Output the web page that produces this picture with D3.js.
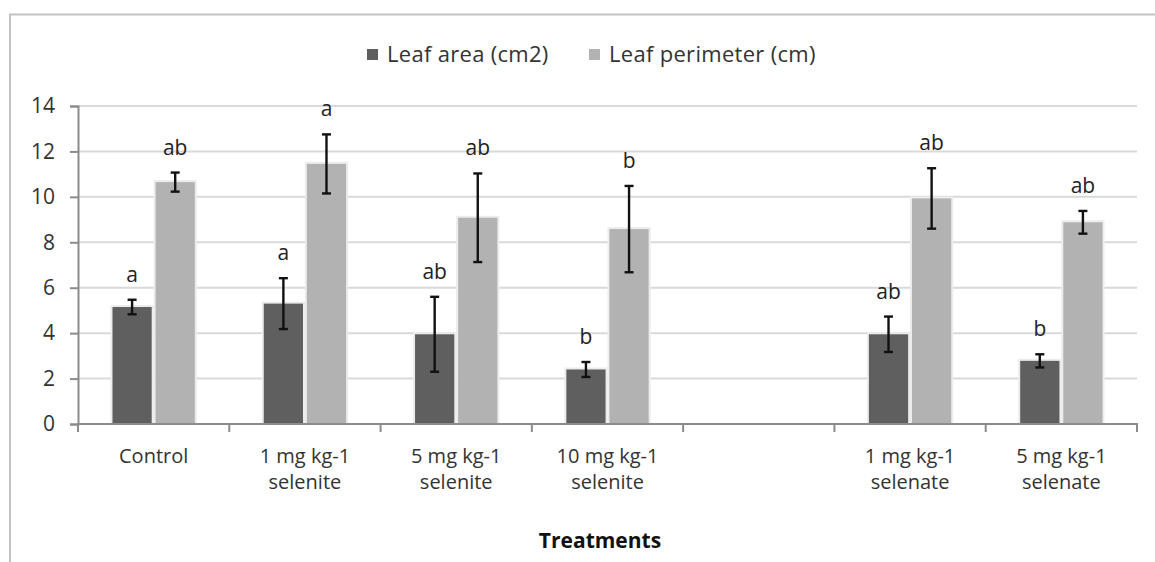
<!DOCTYPE html>
<html>
<head>
<meta charset="utf-8">
<script src="https://cdn.jsdelivr.net/npm/d3@7"></script>
<style>
  body { margin: 0; background: #fff; }
  svg { display: block; font-family: "Open Sans", Lato, sans-serif; }
</style>
</head>
<body>
<svg width="1155" height="562"></svg>
<script>
var categories = [['Control'], ['1 mg kg-1', 'selenite'], ['5 mg kg-1', 'selenite'], ['10 mg kg-1', 'selenite'], [], ['1 mg kg-1', 'selenate'], ['5 mg kg-1', 'selenate']]

var seriesNames = ['Leaf area (cm2)', 'Leaf perimeter (cm)']

var leafArea = [5.15, 5.3, 3.95, 2.4, null, 3.95, 2.78]
var leafAreaErr = [0.32, 1.12, 1.65, 0.33, null, 0.78, 0.29]
var leafPerim = [10.65, 11.45, 9.08, 8.58, null, 9.93, 8.88]
var leafPerimErr = [0.42, 1.3, 1.95, 1.9, null, 1.33, 0.5]

var areaLetters = ['a', 'a', 'ab', 'b', '', 'ab', 'b']
var perimLetters = ['ab', 'a', 'ab', 'b', '', 'ab', 'ab']

var yTicks = [0, 2, 4, 6, 8, 10, 12, 14]

var svg = d3.select('svg')
var cols = ['#5f5f5f', '#b2b2b2']

var plotL = 78, plotR = 1137, plotT = 106, plotB = 424

// frame of the chart area (only left and top edge show)
svg.append('path')
  .attr('d', 'M10,562 V14.5 H1155')
  .style('fill', 'none')
  .style('stroke', '#c3c3c3')
  .style('stroke-width', 2)

var x = d3.scaleBand()
  .domain(d3.range(categories.length))
  .range([plotL, plotR])

var xs = d3.scaleBand()
  .domain([0, 1])
  .range([0, x.bandwidth()])
  .paddingInner(0.09)
  .paddingOuter(0.8)

var y = d3.scaleLinear()
  .domain([0, 14])
  .range([plotB, plotT])

// gridlines
svg.append('g')
  .selectAll('line')
  .data(yTicks.slice(1))
  .enter()
  .append('line')
  .attr('x1', plotL)
  .attr('x2', plotR)
  .attr('y1', function (d) { return y(d) })
  .attr('y2', function (d) { return y(d) })
  .style('stroke', '#d9d9d9')
  .style('stroke-width', 2)

// y axis
var yAxis = svg.append('g')
  .attr('transform', 'translate(' + plotL + ',0)')
  .call(d3.axisLeft(y).tickValues(yTicks).tickSize(8).tickPadding(15))
yAxis.select('.domain').style('stroke', '#8c8c8c').style('stroke-width', 2)
yAxis.selectAll('.tick line').style('stroke', '#8c8c8c').style('stroke-width', 2)
yAxis.selectAll('.tick text')
  .style('font-family', '"Open Sans", sans-serif')
  .style('font-size', '21px')
  .style('fill', '#333')

// bars
var rows = categories.map(function (c, i) {
  return [
    { i: i, s: 0, v: leafArea[i], e: leafAreaErr[i], t: areaLetters[i] },
    { i: i, s: 1, v: leafPerim[i], e: leafPerimErr[i], t: perimLetters[i] }
  ]
})
var items = d3.merge(rows).filter(function (d) { return d.v !== null })

var g = svg.append('g')

// soft halo round each bar
g.selectAll('rect.halo')
  .data(items)
  .enter()
  .append('rect')
  .attr('class', 'halo')
  .attr('x', function (d) { return x(d.i) + xs(d.s) - 2 })
  .attr('y', function (d) { return y(d.v) - 2 })
  .attr('width', xs.bandwidth() + 4)
  .attr('height', function (d) { return y(0) - y(d.v) + 2 })
  .style('fill', '#ececec')

g.selectAll('rect.bar')
  .data(items)
  .enter()
  .append('rect')
  .attr('class', 'bar')
  .attr('x', function (d) { return x(d.i) + xs(d.s) })
  .attr('y', function (d) { return y(d.v) })
  .attr('width', xs.bandwidth())
  .attr('height', function (d) { return y(0) - y(d.v) })
  .style('fill', function (d) { return cols[d.s] })

// x axis
svg.append('line')
  .attr('x1', plotL - 1)
  .attr('x2', plotR + 1)
  .attr('y1', y(0))
  .attr('y2', y(0))
  .style('stroke', '#8c8c8c')
  .style('stroke-width', 2)

svg.append('g')
  .selectAll('line')
  .data(d3.range(categories.length + 1))
  .enter()
  .append('line')
  .attr('x1', function (d) { return plotL + d * x.step() })
  .attr('x2', function (d) { return plotL + d * x.step() })
  .attr('y1', y(0))
  .attr('y2', y(0) + 8)
  .style('stroke', '#8c8c8c')
  .style('stroke-width', 2)

// error bars
var err = g.selectAll('g.err')
  .data(items)
  .enter()
  .append('g')
  .attr('class', 'err')
  .attr('transform', function (d) { return 'translate(' + (x(d.i) + xs(d.s) + xs.bandwidth() / 2) + ',0)' })

err.append('line')
  .attr('y1', function (d) { return y(d.v + d.e) })
  .attr('y2', function (d) { return y(d.v - d.e) })
err.append('line')
  .attr('x1', -4.5).attr('x2', 4.5)
  .attr('y1', function (d) { return y(d.v + d.e) })
  .attr('y2', function (d) { return y(d.v + d.e) })
err.append('line')
  .attr('x1', -4.5).attr('x2', 4.5)
  .attr('y1', function (d) { return y(d.v - d.e) })
  .attr('y2', function (d) { return y(d.v - d.e) })
err.selectAll('line')
  .style('stroke', '#111')
  .style('stroke-width', 2.4)

// significance letters
err.append('text')
  .attr('y', function (d) { return y(d.v + d.e) - 18 })
  .attr('text-anchor', 'middle')
  .style('font-size', '21px')
  .style('fill', '#222')
  .text(function (d) { return d.t })

// category labels
var lab = svg.append('g')
  .selectAll('text')
  .data(categories)
  .enter()
  .append('text')
  .attr('x', function (d, i) { return x(i) + x.bandwidth() / 2 })
  .attr('y', 463)
  .attr('text-anchor', 'middle')
  .style('font-size', '20px')
  .style('fill', '#333')

lab.selectAll('tspan')
  .data(function (d) { return d })
  .enter()
  .append('tspan')
  .attr('x', function () { return this.parentNode.getAttribute('x') })
  .attr('dy', function (d, i) { return i === 0 ? 0 : 26 })
  .text(function (d) { return d })

// axis title
svg.append('text')
  .attr('x', 600)
  .attr('y', 548)
  .attr('text-anchor', 'middle')
  .style('font-size', '21px')
  .style('font-weight', 'bold')
  .style('fill', '#111')
  .text('Treatments')

// legend
var legX = [367, 589]
var leg = svg.append('g')
  .selectAll('g')
  .data(seriesNames)
  .enter()
  .append('g')
  .attr('transform', function (d, i) { return 'translate(' + legX[i] + ',0)' })
leg.append('rect')
  .attr('x', 0)
  .attr('y', 49)
  .attr('width', 11)
  .attr('height', 11)
  .style('fill', function (d, i) { return cols[i] })
leg.append('text')
  .attr('x', 20)
  .attr('y', 62)
  .style('font-size', '22px')
  .style('letter-spacing', '0.3px')
  .style('fill', '#333')
  .text(function (d) { return d })
</script>
</body>
</html>
